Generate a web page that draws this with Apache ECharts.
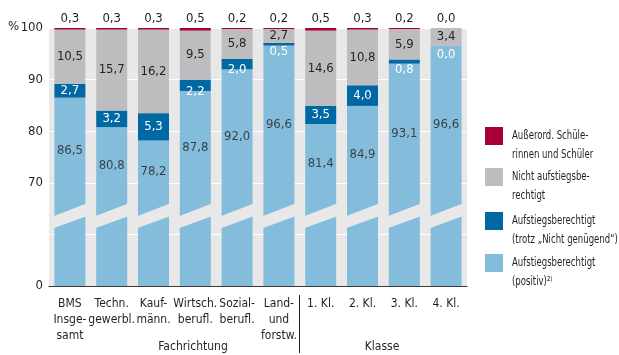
<!DOCTYPE html>
<html>
<head>
<meta charset="utf-8">
<script src="https://cdn.jsdelivr.net/npm/echarts@6/dist/echarts.min.js"></script>
<style>
  html, body { margin: 0; padding: 0; background: #fff; }
  #chart { width: 619px; height: 355px; }
</style>
</head>
<body>
<div id="chart"></div>
<script>
var categories = ['BMS\nInsge-\nsamt', 'Techn.\ngewerbl.', 'Kauf-\nmänn.', 'Wirtsch.\nberufl.', 'Sozial-\nberufl.',
  'Land-\nund\nforstw.', '1. Kl.', '2. Kl.', '3. Kl.', '4. Kl.'];
var positiv = [86.5, 80.8, 78.2, 87.8, 92.0, 96.6, 81.4, 84.9, 93.1, 96.6];
var trotz = [2.7, 3.2, 5.3, 2.2, 2.0, 0.5, 3.5, 4.0, 0.8, 0.0];
var nicht = [10.5, 15.7, 16.2, 9.5, 5.8, 2.7, 14.6, 10.8, 5.9, 3.4];
var ausserord = [0.3, 0.3, 0.3, 0.5, 0.2, 0.2, 0.5, 0.3, 0.2, 0.0];
var yTicks = [50, 60, 70, 80, 90, 100]; // 50 is shown as 0 (broken axis)

var legendNames = ['Außerord. Schüle-\nrinnen und Schüler', 'Nicht aufstiegsbe-\nrechtigt',
  'Aufstiegsberechtigt\n(trotz „Nicht genügend“)', 'Aufstiegsberechtigt\n(positiv)²⁾'];
var colors = ['#a9003b', '#bdbdbf', '#0068a3', '#84bcdc'];

var FONT = "'DejaVu Sans Condensed', 'Liberation Sans Narrow', Roboto, sans-serif";
var TXT = '#231f20';

function fmt(v) { return v.toFixed(1).replace('.', ','); }

// gap that marks the axis break
var breakLow = 61.2, breakMid = 63.5, breakHigh = 66.0;

var dom = document.getElementById('chart');
var myChart = echarts.init(dom);

// legend drawn by hand (the text is squeezed like the condensed original)
var legendTops = [126, 167, 211, 253];
var legendGraphic = legendNames.map(function (n, i) {
  return {
    type: 'group', left: 485, top: legendTops[i],
    children: [
      { type: 'rect', shape: { x: 0, y: 0, width: 18, height: 18 }, style: { fill: colors[i] } },
      { type: 'text', x: 27, y: -1, scaleX: 0.76,
        style: { text: n, fontSize: 12.5, lineHeight: 19, fontFamily: FONT, fill: TXT, verticalAlign: 'top' } }
    ]
  };
});

var option = {
  animation: false,
  textStyle: { fontFamily: FONT, color: TXT },
  grid: { left: 49, right: 152, top: 28, bottom: 69, show: true, backgroundColor: '#e8e8e8', borderWidth: 0 },
  xAxis: {
    type: 'category',
    data: categories,
    axisLine: { lineStyle: { color: '#3a3a3a', width: 1 } },
    axisTick: { inside: true, length: 4, lineStyle: { color: '#3a3a3a' } },
    axisLabel: { interval: 0, margin: 10, fontSize: 12, lineHeight: 16, color: TXT, fontFamily: FONT }
  },
  yAxis: {
    type: 'value',
    min: 50,
    max: 100,
    interval: 10,
    axisLine: { show: false },
    axisTick: { show: false },
    splitLine: { lineStyle: { color: '#ffffff', width: 1 } },
    axisLabel: {
      margin: 6, fontSize: 13, color: TXT, fontFamily: FONT,
      formatter: function (v) {
        if (v === yTicks[0]) return '0';
        if (v === yTicks[1]) return '';
        return String(v);
      }
    }
  },
  series: [
    {
      name: legendNames[3], type: 'bar', stack: 'a', barWidth: 31,
      itemStyle: { color: colors[3] },
      data: positiv
    },
    {
      name: legendNames[2], type: 'bar', stack: 'a', barWidth: 31,
      itemStyle: { color: colors[2] },
      data: trotz.map(function (v) {
        var lab;
        if (v >= 2.5) lab = { position: 'inside' };
        else if (v >= 1) lab = { position: 'bottom', distance: -6 };
        else if (v >= 0.3) lab = { position: 'bottom', distance: 0 };
        else lab = { position: 'bottom', distance: 3 };
        return { value: v, label: lab };
      }),
      label: { show: true, color: '#ffffff', fontSize: 13, fontFamily: FONT, formatter: function (p) { return fmt(p.value); } }
    },
    {
      name: legendNames[1], type: 'bar', stack: 'a', barWidth: 31,
      itemStyle: { color: colors[1] },
      data: nicht,
      label: { show: true, position: 'inside', color: TXT, fontSize: 13, fontFamily: FONT, formatter: function (p) { return fmt(p.value); } }
    },
    {
      name: legendNames[0], type: 'bar', stack: 'a', barWidth: 31,
      itemStyle: { color: colors[0] },
      data: ausserord,
      label: { show: true, position: 'top', distance: 3, color: TXT, fontSize: 13, fontFamily: FONT, formatter: function (p) { return fmt(p.value); } }
    },
    {
      // break band across every bar
      type: 'custom',
      silent: true,
      z: 5,
      data: categories.map(function (c, i) { return [i]; }),
      encode: { x: 0 },
      renderItem: function (params, api) {
        var x = api.coord([api.value(0), 80])[0];
        var w = 33;
        var yL = api.coord([0, breakLow])[1];
        var yM = api.coord([0, breakMid])[1];
        var yH = api.coord([0, breakHigh])[1];
        return {
          type: 'polygon',
          shape: { points: [[x - w / 2, yL], [x - w / 2, yM], [x + w / 2, yH], [x + w / 2, yM]] },
          style: { fill: '#e8e8e8' }
        };
      }
    },
    {
      // labels of the light blue part, centred in the part above the break
      type: 'scatter',
      silent: true,
      symbolSize: 0,
      z: 6,
      data: positiv.map(function (v, i) { return [i, (v + breakHigh) / 2]; }),
      label: {
        show: true, position: 'inside', color: TXT, fontSize: 13, fontFamily: FONT,
        formatter: function (p) { return fmt(positiv[p.dataIndex]); }
      }
    }
  ],
  graphic: [
    { type: 'text', left: 8, top: 20, style: { text: '%', fontSize: 13, fontFamily: FONT, fill: TXT } },
    { type: 'text', x: 193, y: 347, style: { text: 'Fachrichtung', fontSize: 12, fontFamily: FONT, fill: TXT, align: 'center', verticalAlign: 'middle' } },
    { type: 'text', x: 382, y: 347, style: { text: 'Klasse', fontSize: 12, fontFamily: FONT, fill: TXT, align: 'center', verticalAlign: 'middle' } },
    { type: 'line', shape: { x1: 299.5, y1: 295, x2: 299.5, y2: 353 }, style: { stroke: '#231f20', lineWidth: 1 } }
  ].concat(legendGraphic)
};

if (option && typeof option === 'object') {
  myChart.setOption(option);
}
</script>
</body>
</html>
